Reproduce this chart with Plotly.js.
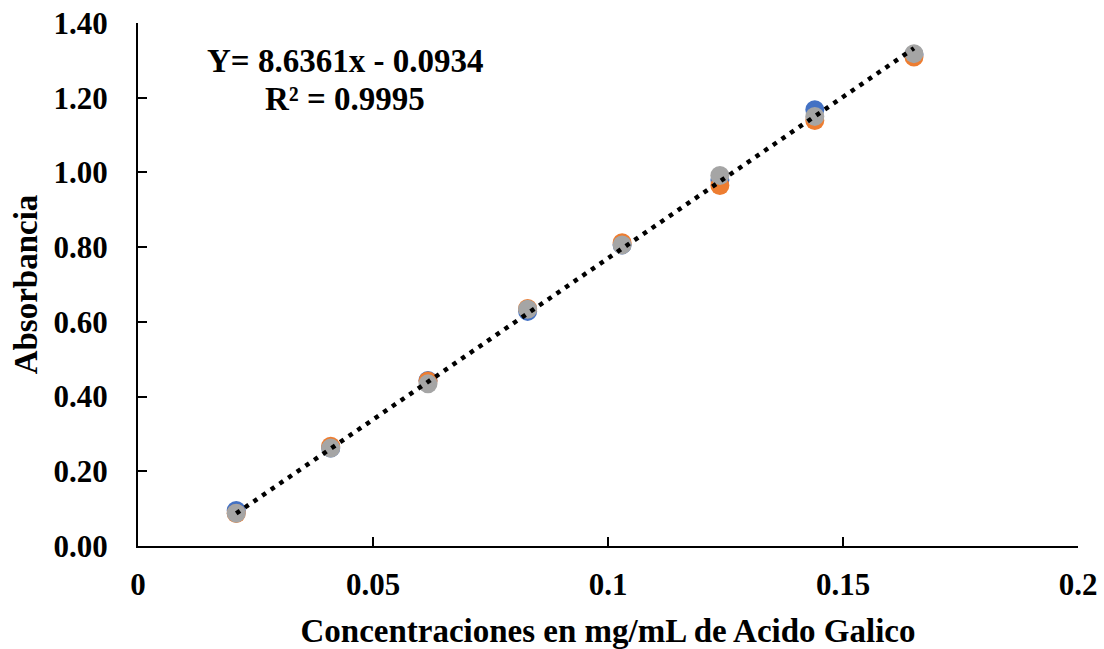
<!DOCTYPE html>
<html>
<head>
<meta charset="utf-8">
<script src="https://cdn.plot.ly/plotly-3.0.1.min.js"></script>
<style>html,body{margin:0;padding:0;background:#fff;}#chart{width:1104px;height:649px;}</style>
</head>
<body>
<div id="chart"></div>
<script>
const concentrations = [0.0209, 0.0410, 0.0617, 0.0829, 0.1030, 0.1238, 0.1440, 0.1651];
const series1 = [0.095, 0.262, 0.443, 0.628, 0.806, 0.980, 1.168, 1.315];
const series2 = [0.087, 0.267, 0.442, 0.636, 0.812, 0.965, 1.139, 1.309];
const series3 = [0.088, 0.262, 0.434, 0.634, 0.806, 0.992, 1.150, 1.318];
const slope = 8.6361;
const intercept = -0.0934;
const r2 = 0.9995;
const xTickVals = [0, 0.05, 0.1, 0.15, 0.2];
const xTickText = ['0', '0.05', '0.1', '0.15', '0.2'];
const yTickVals = [0, 0.2, 0.4, 0.6, 0.8, 1.0, 1.2, 1.4];
const yTickText = ['0.00', '0.20', '0.40', '0.60', '0.80', '1.00', '1.20', '1.40'];

const xMin = Math.min(...concentrations), xMax = Math.max(...concentrations);
const trendX = [xMin, xMax];
const trendY = trendX.map(x => slope * x + intercept);

const font = 'Liberation Serif, Times New Roman, serif';
const mk = (c) => ({size: 19, color: c, line: {width: 0}});

const data = [
  {x: concentrations, y: series1, mode: 'markers', type: 'scatter', marker: mk('#4472C4'), showlegend: false},
  {x: concentrations, y: series2, mode: 'markers', type: 'scatter', marker: mk('#ED7D31'), showlegend: false},
  {x: concentrations, y: series3, mode: 'markers', type: 'scatter', marker: mk('#A5A5A5'), showlegend: false},
  {x: trendX, y: trendY, mode: 'lines', type: 'scatter', line: {color: '#000', width: 4.5, dash: '4.5px,6px'}, showlegend: false}
];

const layout = {
  width: 1104, height: 649,
  margin: {l: 138, r: 26, t: 23, b: 103},
  paper_bgcolor: '#fff', plot_bgcolor: '#fff',
  font: {family: font, color: '#000'},
  xaxis: {
    range: [0, 0.2], tickvals: xTickVals, ticktext: xTickText,
    ticks: 'inside', ticklen: 9, tickwidth: 2, tickcolor: '#000',
    showline: true, linecolor: '#000', linewidth: 2, showgrid: false, zeroline: false,
    tickfont: {family: font, size: 31, weight: 'bold'},
    ticklabelstandoff: 10,
    title: {text: 'Concentraciones en mg/mL de Acido Galico', font: {family: font, size: 33, weight: 'bold'}, standoff: 20}
  },
  yaxis: {
    range: [0, 1.4], tickvals: yTickVals, ticktext: yTickText,
    ticks: 'inside', ticklen: 9, tickwidth: 2, tickcolor: '#000',
    showline: true, linecolor: '#000', linewidth: 2, showgrid: false, zeroline: false,
    tickfont: {family: font, size: 31, weight: 'bold'},
    ticklabelstandoff: 22,
    title: {text: 'Absorbancia', font: {family: font, size: 33, weight: 'bold'}, standoff: 6}
  },
  annotations: [
    {xref: 'paper', yref: 'paper', x: 0.22, y: 0.928, xanchor: 'center', yanchor: 'middle', showarrow: false,
     text: 'Y= ' + slope.toFixed(4) + 'x - ' + Math.abs(intercept).toFixed(4),
     font: {family: font, size: 33, weight: 'bold', color: '#000'}},
    {xref: 'paper', yref: 'paper', x: 0.22, y: 0.855, xanchor: 'center', yanchor: 'middle', showarrow: false,
     text: 'R² = ' + r2.toFixed(4),
     font: {family: font, size: 33, weight: 'bold', color: '#000'}}
  ]
};

Plotly.newPlot('chart', data, layout, {staticPlot: true, displayModeBar: false});
</script>
</body>
</html>
